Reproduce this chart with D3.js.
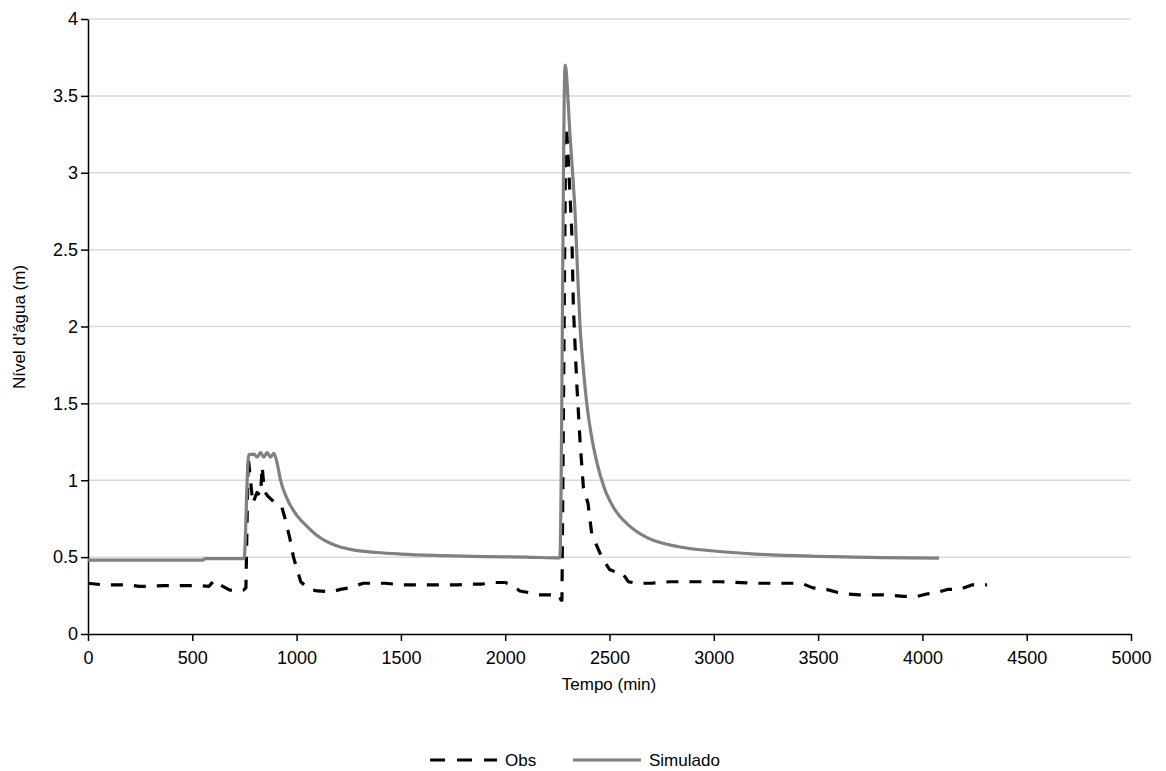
<!DOCTYPE html>
<html><head><meta charset="utf-8">
<script src="https://cdn.jsdelivr.net/npm/d3@7"></script>
<style>body{margin:0;background:#fff;} text{font-family:"Liberation Sans",Arial,sans-serif;}</style>
</head><body><svg id="c" width="1166" height="771"></svg>
<script>
const simTime = [0,550,560,748,770,795,811,827,843,859,875,891,907,923,954,1002,1050,1098,1178,1258,1386,1500,1700,1900,2100,2262,2287,2311,2323,2335,2347,2359,2375,2391,2412,2438,2475,2518,2598,2678,2838,3000,3200,3500,3800,4080];
const simValue = [0.48,0.48,0.49,0.49,1.165,1.17,1.15,1.18,1.15,1.18,1.15,1.175,1.11,1.0,0.88,0.77,0.70,0.64,0.58,0.55,0.53,0.52,0.51,0.503,0.50,0.495,3.70,3.24,3.0,2.74,2.35,2.0,1.72,1.50,1.30,1.125,0.95,0.826,0.70,0.628,0.566,0.54,0.52,0.505,0.497,0.493];
const obsTime = [0,70,125,185,245,295,365,435,475,520,580,605,620,660,680,745,757,768,790,810,827,835,845,860,890,928,945,968,985,1000,1020,1060,1100,1170,1210,1250,1320,1350,1385,1425,1500,1545,1610,1660,1720,1770,1840,1890,1950,2000,2030,2070,2110,2160,2220,2255,2268,2272,2290,2295,2319,2327,2343,2359,2375,2397,2415,2463,2500,2535,2560,2590,2631,2700,2790,2900,3030,3200,3300,3420,3475,3540,3595,3645,3700,3760,3810,3860,3910,3975,4020,4070,4120,4180,4240,4310];
const obsValue = [0.33,0.32,0.32,0.32,0.31,0.31,0.315,0.315,0.315,0.315,0.31,0.35,0.33,0.30,0.285,0.285,0.30,1.15,0.85,0.92,0.90,1.09,0.93,0.90,0.86,0.83,0.75,0.62,0.50,0.43,0.34,0.29,0.28,0.275,0.29,0.30,0.33,0.33,0.33,0.33,0.32,0.32,0.32,0.32,0.32,0.32,0.325,0.325,0.335,0.335,0.32,0.28,0.27,0.255,0.255,0.26,0.22,0.22,3.30,3.29,2.62,2.12,1.63,1.25,0.95,0.85,0.65,0.50,0.42,0.40,0.40,0.34,0.33,0.33,0.34,0.34,0.34,0.33,0.33,0.33,0.30,0.29,0.27,0.26,0.255,0.255,0.255,0.25,0.245,0.245,0.26,0.27,0.29,0.29,0.32,0.32];
const xTicks = [0,500,1000,1500,2000,2500,3000,3500,4000,4500,5000];
const yTicks = [0,0.5,1,1.5,2,2.5,3,3.5,4];
const seriesNames = ["Obs","Simulado"];
const xTitle = "Tempo (min)";
const yTitle = "Nível d'água (m)";

const svg = d3.select("#c");
const L=88,R=1131,T=19,B=634;
const x = d3.scaleLinear().domain([0,5000]).range([L,R]);
const y = d3.scaleLinear().domain([0,4]).range([B,T]);
const fsTick = 18, fsTitle = 17;

svg.append("g").selectAll("line").data(yTicks.filter(d=>d>0)).join("line")
  .attr("x1",L).attr("x2",R).attr("y1",d=>y(d)).attr("y2",d=>y(d))
  .attr("stroke","#d9d9d9").attr("stroke-width",1.5);

const xa = svg.append("g").attr("transform",`translate(0,${B})`)
  .call(d3.axisBottom(x).tickValues(xTicks).tickFormat(d3.format("d")).tickSizeInner(7).tickSizeOuter(0));
const ya = svg.append("g").attr("transform",`translate(${L},0)`)
  .call(d3.axisLeft(y).tickValues(yTicks).tickFormat(d=>String(d)).tickSizeInner(7).tickSizeOuter(0));
[xa,ya].forEach(a=>{
  a.select(".domain").attr("stroke","#000").attr("stroke-width",1.5);
  a.selectAll(".tick line").attr("stroke","#000").attr("stroke-width",1.5);
  a.selectAll(".tick text").attr("font-size",fsTick).attr("fill","#000").style("font-family","Liberation Sans, Arial, sans-serif");
});
xa.selectAll(".tick text").attr("y",17).attr("dy","0.71em");
ya.selectAll(".tick text").attr("x",-10);

const simLine = d3.line().x(d=>x(d[0])).y(d=>y(d[1])).curve(d3.curveMonotoneX);
const obsLine = d3.line().x(d=>x(d[0])).y(d=>y(d[1]));
const simData = simTime.map((t,i)=>[t,simValue[i]]);
const obsData = obsTime.map((t,i)=>[t,obsValue[i]]);

svg.append("path").datum(obsData).attr("d",obsLine).attr("fill","none")
  .attr("stroke","#000").attr("stroke-width",3.2).attr("stroke-dasharray","12,11")
  .attr("stroke-linejoin","round");
svg.append("path").datum(simData).attr("d",simLine).attr("fill","none")
  .attr("stroke","#808080").attr("stroke-width",3.2).attr("stroke-linejoin","round");

svg.append("text").attr("x",609).attr("y",690).attr("text-anchor","middle").attr("font-size",fsTitle).text(xTitle);
svg.append("text").attr("transform","translate(25,327) rotate(-90)").attr("text-anchor","middle").attr("font-size",fsTitle).text(yTitle);

// legend
const lg = svg.append("g");
lg.append("line").attr("x1",430).attr("x2",497).attr("y1",760).attr("y2",760)
  .attr("stroke","#000").attr("stroke-width",3.2).attr("stroke-dasharray","15,12");
lg.append("text").attr("x",505).attr("y",766).attr("font-size",fsTitle).text(seriesNames[0]);
lg.append("line").attr("x1",573).attr("x2",641).attr("y1",760).attr("y2",760)
  .attr("stroke","#808080").attr("stroke-width",3.2);
lg.append("text").attr("x",649).attr("y",766).attr("font-size",fsTitle).text(seriesNames[1]);
</script></body></html>
